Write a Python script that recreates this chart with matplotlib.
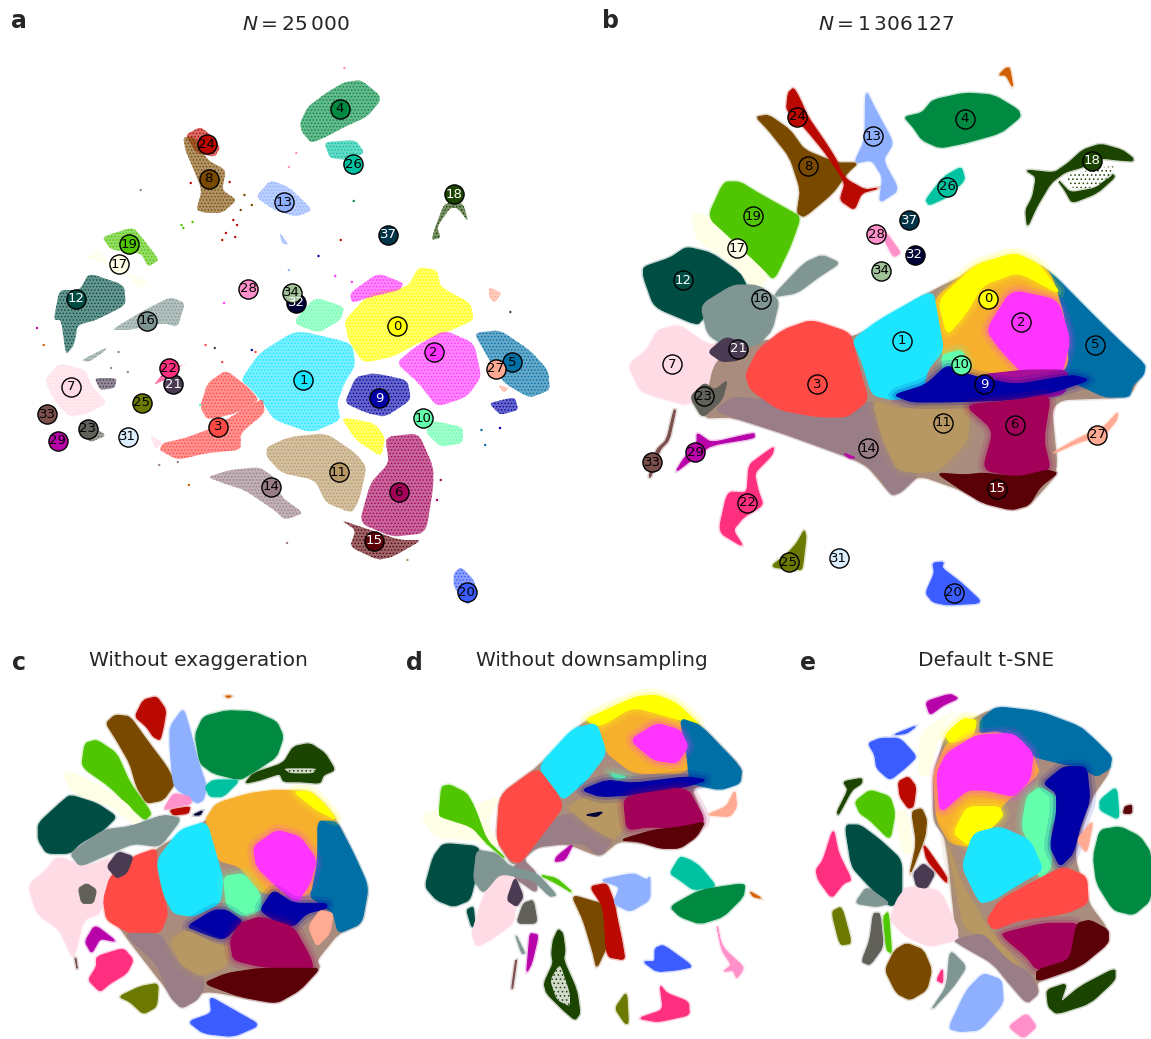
import matplotlib
matplotlib.use("Agg")
import matplotlib.pyplot as plt
from matplotlib.path import Path
from matplotlib.patches import PathPatch
from matplotlib.colors import to_rgba

W, H = 1151, 1039
C = {0:'#FFFF00',1:'#1CE6FF',2:'#FF34FF',3:'#FF4A46',4:'#008941',5:'#006FA6',6:'#A30059',7:'#FFDBE5',
     8:'#7A4900',9:'#0000A6',10:'#63FFAC',11:'#B79762',12:'#004D43',13:'#8FB0FF',14:'#997D87',15:'#5A0007',
     16:'#809693',17:'#FEFFE6',18:'#1B4400',19:'#4FC601',20:'#3B5DFF',21:'#4A3B53',22:'#FF2F80',23:'#61615A',
     24:'#BA0900',25:'#6B7900',26:'#00C2A0',27:'#FFAA92',28:'#FF90C9',29:'#B903AA',30:'#D16100',31:'#DDEFFF',
     32:'#000035',33:'#7B4F4B',34:'#A1C299',37:'#013349',
     'orange':'#F7B02E','purple':'#A8109A','base':'#A98C7E'}
WHITE_TEXT = [9, 12, 15, 18, 21, 32, 37]

cluster_ids = [0,1,2,3,4,5,6,7,8,9,10,11,12,13,14,15,16,17,18,19,20,21,22,23,24,25,26,27,28,29,31,32,33,34,37]
a_label_x = [1073,819,1171,589,917,1382,1076,192,563,1024,1143,914,205,768,731,1010,397,321,1227,348,1260,468,455,237,558,383,954,1338,670,156,345,800,127,788,1048]
a_label_y = [326,380,352,427,109,362,492,387,179,398,418,472,299,202,487,541,321,264,194,244,592,384,368,429,144,403,164,369,289,441,437,303,414,293,235]
b_label_x = [1115,873,1208,637,1050,1415,1189,229,611,1104,1038,989,260,792,779,1140,479,412,1406,456,1018,415,440,318,580,557,1001,1421,801,294,697,909,175,816,894]
b_label_y = [299,341,322,384,119,345,425,364,166,384,365,423,280,136,448,489,299,248,161,216,593,349,503,396,117,562,187,435,234,452,558,255,462,271,220]

A_POLYS = [
 (4,[(810,123),(830,107),(880,93),(930,82),(975,80),(1025,95),(1025,102),(990,117),(930,127),(880,137),(840,143),(815,132)]),
 (26,[(875,142),(960,140),(985,153),(940,160),(890,158)]),
 (24,[(500,135),(540,127),(560,132),(595,147),(580,157),(530,153)]),
 (8,[(495,137),(525,137),(560,160),(610,170),(600,190),(640,200),(600,213),(555,213),(530,210),(545,190),(520,167),(500,150)]),
 (13,[(690,197),(730,180),(780,187),(845,210),(800,217),(740,210)]),
 (13,[(755,232),(780,245),(760,243)]),
 (18,[(1200,203),(1250,203),(1265,222),(1235,208),(1215,208),(1180,227),(1190,238),(1165,240),(1175,227)]),
 (19,[(275,237),(360,227),(395,243),(430,260),(400,267),(380,253),(300,250)]),
 (17,[(230,257),(270,250),(300,267),(400,280),(380,290),(340,273),(260,260)]),
 (12,[(145,320),(160,290),(215,290),(240,273),(335,285),(340,305),(260,320),(210,325),(200,345),(178,355),(165,320)]),
 (16,[(300,330),(390,310),(460,297),(500,303),(480,327),(440,323),(350,330)]),
 (16,[(220,360),(290,347),(280,352),(240,362)]),
 (7,[(120,380),(160,363),(230,370),(250,387),(290,403),(240,413),(190,417),(150,403)]),
 (21,[(255,378),(315,378),(310,388),(270,390)]),
 (22,[(415,385),(440,373),(520,360),(490,365),(445,380)]),
 (10,[(790,323),(850,297),(930,307),(920,320),(860,333)]),
 (1,[(650,380),(700,353),(800,330),(950,343),(960,365),(930,383),(910,403),(920,420),(840,433),(740,420),(710,403),(680,390)]),
 (3,[(560,383),(610,370),(670,387),(700,400),(640,413),(560,420),(540,407)]),
 (3,[(440,443),(500,438),(580,427),(640,413),(710,398),(715,413),(650,433),(650,450),(560,453),(480,460),(430,450)]),
 (0,[(930,320),(1000,293),(1100,287),(1130,267),(1180,270),(1190,287),(1270,303),(1280,320),(1220,330),(1130,343),(1060,357),(980,363),(940,340)]),
 (0,[(920,417),(1010,423),(1040,437),(1030,457),(960,440)]),
 (2,[(945,293),(1020,273),(1090,283),(1080,290),(1000,297),(950,303)]),
 (2,[(1120,347),(1200,330),(1280,343),(1300,377),(1260,397),(1180,407),(1130,383),(1070,363)]),
 (5,[(1280,333),(1350,330),(1430,350),(1480,370),(1485,390),(1430,398),(1360,383),(1310,353)]),
 (9,[(1320,403),(1390,397),(1400,410),(1350,415)]),
 (9,[(930,403),(960,377),(1010,373),(1100,380),(1110,400),(1040,417),(990,413)]),
 (10,[(1160,420),(1250,427),(1250,443),(1190,447),(1150,433)]),
 (11,[(720,447),(780,437),(880,433),(960,453),(990,467),(970,500),(950,513),(880,503),(850,480),(760,473),(720,457)]),
 (14,[(560,477),(620,470),(700,467),(740,477),(760,497),(820,513),(770,520),(740,510),(660,490),(600,483)]),
 (6,[(1040,437),(1130,433),(1170,467),(1170,487),(1150,533),(1060,537),(970,523),(1000,483),(1050,463)]),
 (15,[(920,520),(1000,530),(1080,540),(1140,540),(1060,557),(1020,560),(945,547),(960,530)]),
 (20,[(1225,573),(1245,567),(1280,580),(1290,597),(1260,605),(1225,587)]),
 (23,[(210,420),(290,435),(240,443)]),
 (27,[(1345,385),(1375,388),(1360,393)]),
 (27,[(1320,287),(1355,293),(1335,303),(1320,297)]),
 (7,[(405,435),(440,442),(420,450)]),
]
# scattered single cells in panel a
a_stray_c = [24,24,24,24,24,24,9,2,16,4,19,29,14,30,30,21,9,3,28,13,24,24,8,8,8,19,19,2,2,21,9,16,16,16,3,3,14,14,5,5,6,6,11,10,28,28]
a_stray_x = [920,600,635,630,620,515,860,605,380,955,490,100,775,118,510,1378,1350,555,800,780,640,610,660,680,650,520,495,905,950,580,680,320,300,345,600,690,430,480,1300,1310,1190,1180,1100,540,780,930]
a_stray_y = [240,240,237,220,182,183,256,303,190,201,225,328,543,345,485,312,428,345,153,270,225,233,195,205,210,222,228,276,282,348,350,352,368,372,362,352,465,462,430,445,480,500,560,405,167,68]

B_POLYS = [
 (30,[(1165,68),(1175,68),(1185,88),(1165,75),(1145,75)]),
 (17,[(285,212),(360,220),(440,240),(500,277),(470,293),(400,263),(300,240)]),
 (19,[(375,182),(420,182),(470,193),(540,207),(590,217),(560,247),(515,280),(480,267),(400,240),(330,217)]),
 (7,[(107,365),(160,350),(190,330),(250,325),(330,345),(430,345),(450,365),(420,385),(380,395),(320,395),(270,405),(220,400),(170,395),(140,390)]),
 ('base',[(350,360),(470,340),(735,340),(960,290),(1190,253),(1320,295),(1555,365),(1510,397),(1290,400),(1310,473),(1230,505),(1180,510),(1040,490),(920,475),(870,492),(845,495),(770,463),(540,433),(400,417),(315,418)]),
 (12,[(150,267),(225,258),(270,247),(340,253),(420,273),(440,287),(350,300),(320,317),(300,325),(180,307),(150,277)]),
 (16,[(510,297),(600,263),(650,255),(700,263),(640,277),(580,293)]),
 (16,[(310,305),(400,285),(470,285),(530,300),(510,330),(470,345),(400,350),(330,335)]),
 (14,[(350,410),(400,397),(500,400),(640,415),(790,400),(850,420),(900,445),(920,475),(870,492),(845,495),(810,477),(770,463),(650,447),(540,433),(470,425),(400,417)]),
 (11,[(790,400),(880,410),(1000,400),(1060,400),(1060,440),(980,470),(920,473),(860,470),(820,440)]),
 (3,[(435,375),(450,390),(530,410),(640,417),(720,417),(780,400),(750,363),(730,333),(620,320),(540,330),(470,350)]),
 (21,[(330,352),(380,337),(430,343),(420,360),(370,362)]),
 (23,[(280,397),(320,383),(350,390),(385,380),(370,400),(315,418)]),
 (33,[(235,410),(215,440),(185,450),(165,477),(170,477),(195,450),(222,440),(240,410)]),
 (29,[(460,433),(460,438),(340,445),(295,457),(240,472),(260,460),(300,443),(300,433),(340,443)]),
 (29,[(710,453),(745,458),(725,458)]),
 (22,[(515,447),(510,455),(460,473),(470,490),(485,505),(430,517),(400,530),(430,547),(360,532),(385,492),(440,493),(445,465),(490,453)]),
 (25,[(600,530),(605,537),(595,567),(590,570),(505,567),(555,553),(580,543)]),
 (20,[(960,563),(990,562),(985,568),(1040,583),(1100,603),(1000,605),(960,602),(940,593),(965,573)]),
 (27,[(1295,453),(1370,438),(1440,427),(1478,412),(1475,420),(1440,435),(1370,442),(1300,453)]),
 (28,[(830,233),(870,253),(850,257),(825,240)]),
 (26,[(1040,167),(1050,180),(1000,197),(950,205),(940,200),(990,177)]),
 (4,[(880,117),(930,113),(960,100),(1050,93),(1130,95),(1200,110),(1205,117),(1150,133),(1050,143),(980,148),(930,140),(905,127)]),
 (13,[(772,90),(800,110),(850,143),(820,160),(865,190),(810,203),(820,177),(790,160),(740,163),(770,140)]),
 (8,[(465,117),(500,115),(560,130),(600,150),(690,163),(750,163),(720,173),(680,193),(600,217),(580,213),(590,190),(560,157),(500,130)]),
 (24,[(570,88),(585,97),(610,117),(660,143),(690,160),(700,170),(720,180),(770,190),(810,188),(760,193),(740,210),(700,200),(715,183),(660,153),(600,127),(550,110),(555,93)]),
 (18,[(1520,158),(1490,150),(1430,144),(1380,150),(1340,163),(1300,173),(1220,170),(1250,177),(1240,197),(1220,210),(1225,227),(1250,207),(1290,183),(1330,172),(1380,167),(1430,158),(1480,160),(1520,161)]),
 (18,[(1470,177),(1420,193),(1350,203),(1330,190),(1310,180),(1345,193),(1420,188),(1460,173)]),
 (5,[(1190,255),(1290,272),(1400,312),(1480,340),(1555,365),(1550,375),(1520,385),(1510,397),(1440,397),(1370,385),(1290,375),(1330,350),(1310,310)]),
 ('orange',[(960,300),(1080,265),(1200,255),(1290,272),(1330,320),(1340,370),(1200,385),(1000,375),(980,340)]),
 (0,[(975,300),(1080,265),(1190,253),(1260,265),(1320,295),(1200,272),(1100,285),(1050,315),(1000,335)]),
 (2,[(1110,330),(1180,290),(1310,300),(1345,340),(1320,375),(1230,380),(1150,350)]),
 ('purple',[(1090,375),(1220,370),(1340,370),(1330,395),(1200,400)]),
 (1,[(735,340),(810,320),(960,290),(975,320),(990,350),(945,370),(930,395),(850,400),(790,395),(760,360)]),
 (10,[(985,355),(1040,350),(1060,365),(1030,375),(990,375)]),
 (9,[(850,395),(940,385),(1000,365),(1060,375),(1190,385),(1350,375),(1400,380),(1300,392),(1180,400),(1000,402),(900,402)]),
 (6,[(1050,405),(1200,400),(1290,395),(1270,440),(1290,470),(1200,477),(1100,470),(1130,430)]),
 (15,[(970,473),(1050,475),(1100,473),(1200,477),(1280,470),(1310,473),(1260,487),(1230,505),(1180,510),(1100,503),(1040,490)]),
]
B_SPECKLE = [[(1330,175),(1470,165),(1465,175),(1410,188),(1345,188)]]

C_POLYS = [
 (24,[(405,230),(430,180),(470,170),(498,210),(490,260),(480,300),(460,290),(440,260)]),
 (8,[(318,250),(345,225),(390,230),(440,300),(500,380),(525,430),(490,480),(440,490),(410,440),(390,370),(350,300)]),
 (13,[(550,205),(570,270),(590,350),(620,440),(610,480),(590,490),(520,440),(510,320),(510,260)]),
 (4,[(585,285),(610,230),(680,212),(760,215),(830,245),(850,290),(830,350),(770,390),(720,420),(640,400),(600,370)]),
 (26,[(615,440),(640,420),(720,420),(670,470),(630,470)]),
 (18,[(735,430),(760,400),(850,370),(880,320),(930,310),(975,340),(1005,390),(970,405),(960,430),(900,425),(850,425),(840,400),(780,420)]),
 (19,[(245,380),(255,310),(290,300),(350,340),(390,430),(455,520),(435,540),(400,510),(330,440)]),
 (17,[(190,400),(210,395),(300,440),(380,490),(420,540),(440,580),(420,570),(340,500),(220,460)]),
 (7,[(85,735),(140,690),(170,650),(260,680),(340,650),(330,720),(300,820),(250,840),(220,960),(180,870),(110,820)]),
 ('base',[(310,780),(470,625),(620,545),(650,490),(930,455),(1010,540),(1105,740),(1085,850),(1015,880),(950,960),(960,985),(830,1090),(610,1050),(545,1105),(370,880)]),
 (12,[(115,550),(180,490),(210,465),(290,490),(350,530),(310,570),(240,610),(210,640),(140,640),(115,600)]),
 (16,[(210,640),(310,570),(390,560),(490,525),(545,535),(480,620),(400,610),(330,640),(240,680)]),
 (23,[(235,745),(260,730),(290,750),(280,790),(245,790)]),
 (3,[(310,780),(330,710),(400,650),(470,625),(470,700),(505,820),(480,880),(390,880),(320,840)]),
 (21,[(320,680),(355,635),(400,650),(380,700),(350,715)]),
 (5,[(950,540),(1010,545),(1060,640),(1105,740),(1085,850),(1015,880),(1000,820),(960,790),(930,770),(950,660)]),
 ('orange',[(615,540),(650,490),(750,460),(830,450),(930,455),(970,490),(1010,540),(950,540),(950,660),(930,770),(780,760),(720,680),(650,660)]),
 (0,[(880,455),(930,455),(970,490),(1010,540),(950,510)]),
 (2,[(760,620),(830,570),(900,590),(950,660),(930,730),(890,790),(820,730),(770,680)]),
 (1,[(470,660),(540,570),(620,545),(650,650),(670,720),(660,790),(580,830),(520,820),(490,760)]),
 (10,[(670,710),(730,700),(780,760),(785,810),(730,830),(680,800)]),
 (9,[(560,860),(640,810),(680,810),(730,845),(670,900),(610,880)]),
 (9,[(780,810),(820,750),(880,790),(980,790),(980,805),(920,820),(880,860),(820,840)]),
 (14,[(370,880),(480,880),(520,950),(610,1010),(610,1050),(590,1080),(545,1105),(510,1070),(470,970)]),
 (11,[(510,900),(560,870),(640,910),(690,920),(680,980),(600,1010),(540,970)]),
 (6,[(720,850),(780,830),(880,860),(930,950),(940,985),(880,985),(780,980),(700,960),(690,900)]),
 (15,[(610,1030),(680,1000),(780,985),(900,985),(960,985),(900,1050),(830,1090),(720,1070)]),
 (27,[(925,860),(960,810),(1000,820),(990,880),(950,920)]),
 (22,[(265,1020),(290,980),(290,950),(370,925),(400,960),(380,1000),(330,1030),(300,1055)]),
 (25,[(357,1070),(420,1040),(475,1030),(470,1100),(430,1122),(390,1085)]),
 (20,[(565,1145),(635,1120),(630,1070),(700,1110),(780,1155),(700,1190),(610,1180)]),
 (29,[(255,905),(285,855),(350,905),(300,895),(275,940)]),
 (33,[(225,955),(232,990),(228,955)]),
 (28,[(490,510),(520,460),(570,470),(575,490),(530,500)]),
 (24,[(510,510),(570,500),(565,520),(520,525)]),
 (30,[(676,168),(695,168),(685,173)]),
 (32,[(580,525),(608,512),(600,525)]),
]
C_SPECKLE = [[(850,385),(950,385),(940,400),(870,400)]]

D_POLYS = [
 (17,[(65,525),(120,510),(220,500),(300,470),(260,550),(300,620),(230,600),(100,590)]),
 (19,[(118,515),(125,440),(150,435),(200,460),(225,505),(260,600),(320,660),(260,610),(215,560),(120,530)]),
 (19,[(420,705),(470,715),(520,760),(470,730)]),
 ('base',[(300,465),(415,380),(555,240),(770,165),(900,255),(1025,385),(1020,430),(870,440),(915,545),(840,625),(660,600),(600,650),(500,610),(410,620),(340,680),(290,600)]),
 (14,[(340,680),(410,620),(500,610),(550,610),(600,650),(640,600),(600,530),(500,520),(400,570),(370,660),(410,700),(410,760),(340,710)]),
 (12,[(75,740),(100,650),(130,610),(240,620),(230,700),(210,780),(160,800),(110,780)]),
 (12,[(200,810),(220,800),(225,860),(215,860)]),
 (7,[(240,800),(270,720),(340,690),(350,780),(340,850),(270,900),(230,920),(215,880)]),
 (16,[(230,630),(290,640),(330,680),(410,700),(470,765),(450,770),(400,720),(300,700),(250,760),(220,720)]),
 (21,[(320,780),(345,710),(370,770),(350,800)]),
 (23,[(350,850),(370,790),(400,780),(412,850)]),
 (3,[(300,465),(410,385),(460,440),(490,500),(430,580),(360,670),(330,660),(290,600)]),
 ('orange',[(590,250),(700,190),(830,230),(870,320),(860,400),(700,400),(620,340)]),
 (0,[(555,240),(640,200),(710,170),(770,165),(830,190),(900,255),(840,240),(700,200),(600,260)]),
 (5,[(840,235),(900,255),(1025,385),(1020,430),(960,450),(870,430),(860,340)]),
 (2,[(690,300),(770,250),(840,270),(865,320),(830,370),(760,360)]),
 (1,[(415,380),(520,265),(590,250),(620,340),(560,420),(490,480),(460,440)]),
 (10,[(630,400),(680,410),(650,420)]),
 (11,[(500,500),(560,470),(680,480),(670,570),(640,600),(570,560)]),
 (9,[(545,450),(620,420),(700,430),(860,410),(920,420),(860,440),(700,465),(600,470)]),
 (6,[(670,470),(860,440),(915,540),(880,570),(750,560),(680,570)]),
 (15,[(660,600),(760,570),(850,560),(915,545),(890,590),(840,625),(780,625),(720,605)]),
 (27,[(920,525),(980,500),(1005,450),(1010,500),(990,530)]),
 (8,[(515,765),(600,790),(650,800),(620,920),(590,985),(580,940),(550,840)]),
 (24,[(570,740),(620,730),(640,780),(650,830),(665,900),(675,960),(620,950),(610,800)]),
 (13,[(600,720),(700,700),(740,720),(750,710),(750,780),(690,815),(640,790),(660,740)]),
 (26,[(810,700),(840,650),(870,660),(900,680),(950,740),(880,750),(840,720)]),
 (4,[(810,800),(900,750),(1035,730),(1030,770),(970,830),(900,852),(840,830)]),
 (30,[(1050,755),(1085,775),(1060,770)]),
 (18,[(460,900),(475,868),(488,880),(495,930),(490,960),(530,1050),(540,1120),(525,1140),(490,1110),(440,1060),(432,1030),(460,970),(455,940)]),
 (29,[(390,880),(415,885),(395,970),(380,998),(385,940)]),
 (29,[(470,650),(520,610),(495,660),(465,665)]),
 (33,[(347,960),(350,960),(338,1045),(335,1045)]),
 (16,[(345,880),(375,940),(365,940)]),
 (20,[(730,965),(765,965),(765,925),(790,915),(880,980),(830,990),(770,995)]),
 (25,[(645,1105),(680,1055),(685,1150),(675,1150)]),
 (22,[(715,1135),(790,1110),(780,1035),(800,1060),(865,1085),(868,1125),(800,1140),(770,1145)]),
 (28,[(950,850),(960,900),(975,930),(1030,980),(1025,995),(1010,1015),(1000,990),(970,995),(995,975),(965,930)]),
 (32,[(555,525),(610,515),(590,530)]),
]
D_SPECKLE = [[(450,1020),(480,970),(510,1060),(510,1100),(470,1080)]]

E_POLYS = [
 (29,[(437,185),(510,162),(535,175),(490,195),(450,225)]),
 (20,[(265,310),(300,295),(360,295),(410,350),(380,380),(330,420),(290,385),(285,345)]),
 (20,[(340,285),(410,257),(380,280)]),
 (17,[(420,280),(530,210),(490,250),(460,340),(450,410),(415,400)]),
 ('base',[(460,400),(500,280),(650,200),(945,300),(995,385),(930,480),(880,640),(925,790),(985,870),(900,980),(770,1025),(775,1060),(740,1090),(640,970),(530,900),(500,600),(460,540)]),
 (5,[(600,240),(650,200),(780,215),(900,260),(945,300),(995,350),(990,385),(950,410),(900,380),(840,370),(760,350),(730,300),(650,270),(600,280)]),
 ('orange',[(460,400),(500,310),(580,280),(680,280),(760,350),(780,400),(660,500),(660,540),(570,620),(510,610),(470,540)]),
 (0,[(495,285),(550,235),(590,240),(580,290),(510,310)]),
 (2,[(470,400),(500,340),(590,285),(700,280),(760,340),(750,420),(700,470),(620,450),(560,450),(480,520)]),
 (0,[(520,580),(560,500),(660,500),(670,530),(570,620)]),
 (10,[(740,470),(780,440),(830,470),(830,520),(810,570),(815,680),(780,720),(750,620),(725,560)]),
 (9,[(790,430),(850,380),(920,380),(930,480),(900,560),(880,640),(840,680),(810,620),(830,520),(830,460)]),
 (11,[(500,600),(540,720),(620,860),(730,990),(680,980),(600,890),(550,860)]),
 (1,[(545,680),(580,580),(660,560),(750,600),(790,690),(720,730),(640,780),(600,790)]),
 (3,[(620,840),(660,780),(770,720),(850,680),(920,710),(925,790),(860,820),(720,840),(640,870)]),
 (6,[(665,880),(790,850),(900,850),(890,960),(770,990),(740,950),(680,900)]),
 (15,[(890,850),(930,840),(985,870),(985,910),(900,980),(770,1025),(770,990),(870,960)]),
 (14,[(520,900),(610,880),(680,960),(750,1000),(775,1060),(740,1090),(680,1020),(640,970),(550,920)]),
 (4,[(960,570),(1020,560),(1080,590),(1113,640),(1113,780),(1060,825),(1000,810),(950,730),(940,650)]),
 (26,[(960,480),(1010,440),(1018,540),(960,510)]),
 (27,[(890,600),(940,540),(920,640)]),
 (18,[(800,1050),(860,1030),(840,1090),(900,1040),(1005,985),(1005,1020),(930,1090),(830,1122),(805,1100)]),
 (18,[(190,425),(245,415),(245,430),(215,450),(175,525),(172,515),(205,450)]),
 (19,[(225,485),(270,450),(330,470),(345,520),(330,600),(270,540),(240,520)]),
 (19,[(310,830),(325,815),(335,940),(320,930)]),
 (17,[(345,520),(380,510),(400,640),(370,640)]),
 (24,[(355,425),(385,410),(408,440),(400,500),(385,505),(360,470)]),
 (24,[(430,610),(500,710),(500,730),(440,660)]),
 (8,[(395,515),(425,505),(440,540),(435,590),(400,680),(390,700),(410,610)]),
 (8,[(315,990),(345,930),(380,910),(430,930),(455,990),(440,1050),(390,1080),(350,1060)]),
 (12,[(195,555),(240,555),(300,600),(365,660),(365,780),(330,800),(260,730),(215,680)]),
 (16,[(225,790),(260,740),(330,790),(290,800)]),
 (16,[(450,1115),(500,1040),(510,930),(560,980),(520,1040)]),
 (7,[(330,840),(350,780),(380,740),(480,750),(535,870),(530,900),(450,920),(380,890)]),
 (21,[(400,700),(430,670),(465,700),(440,745),(410,740)]),
 (23,[(245,965),(270,900),(280,820),(300,820),(310,920),(270,975)]),
 (22,[(108,690),(130,660),(160,565),(175,640),(215,720),(190,730),(155,775),(115,720)]),
 (22,[(470,1020),(488,985),(488,1030)]),
 (25,[(155,815),(185,800),(215,910),(180,915)]),
 (13,[(505,1165),(560,1050),(610,1000),(665,1020),(670,1090),(600,1170),(540,1175)]),
 (28,[(685,1160),(740,1120),(770,1160),(730,1195)]),
 (15,[(1035,500),(1055,495),(1055,520),(1030,520)]),
]

SOFT = [0, 2, 9, 10, 11, 6]

def rounded(pts, f=0.25):
    n = len(pts)
    lerp = lambda p, q, t: (p[0]+(q[0]-p[0])*t, p[1]+(q[1]-p[1])*t)
    verts, codes = [lerp(pts[0], pts[1], f)], [Path.MOVETO]
    for i in range(1, n+1):
        v, nx = pts[i % n], pts[(i+1) % n]
        prev = pts[i-1]
        verts += [lerp(prev, v, 1-f), v, lerp(v, nx, f)]
        codes += [Path.LINETO, Path.CURVE3, Path.CURVE3]
    return Path(verts, codes)

def draw_solid(ax, polys):
    for key, pts in polys:
        if key not in SOFT:
            ax.add_patch(PathPatch(rounded(pts), fc='none', ec=to_rgba(C[key], .22), lw=3))
    for key, pts in polys:
        col, p = C[key], rounded(pts)
        if key in SOFT:
            ax.add_patch(PathPatch(p, fc='none', ec=to_rgba(col, .12), lw=10))
            ax.add_patch(PathPatch(p, fc='none', ec=to_rgba(col, .2), lw=5))
        ax.add_patch(PathPatch(p, fc=col, ec=col, lw=.8))

def draw_sparse(ax, key, pts):
    col = C[key]
    ax.add_patch(PathPatch(rounded(pts), fc=to_rgba(col, .6), ec=col, lw=0, hatch='.....'))

def new_axes(x0, y0, x1, y1, xlim, ylim):
    ax = fig.add_axes([x0/W, 1-y1/H, (x1-x0)/W, (y1-y0)/H])
    ax.set_xlim(*xlim); ax.set_ylim(*ylim); ax.axis('off')
    return ax

def labels(ax, xs, ys):
    for c, x, y in zip(cluster_ids, xs, ys):
        ax.scatter([x], [y], s=190, c=C[c], edgecolors='k', linewidths=1, zorder=5)
        ax.text(x, y, str(c), ha='center', va='center', fontsize=9.5, zorder=6,
                color='white' if c in WHITE_TEXT else 'black')

def speckle(ax, polys):
    for pts in polys:
        ax.add_patch(PathPatch(rounded(pts), fc=to_rgba('white', .8), ec='#1B4400', lw=0, hatch='....'))

plt.rcParams['hatch.linewidth'] = 0.6
fig = plt.figure(figsize=(W/100, H/100), dpi=100)
INK = '#262626'

axa = new_axes(0, 0, 580, 620, (0, 1566), (620, 0))
for k, pts in A_POLYS:
    draw_sparse(axa, k, pts)
axa.scatter(a_stray_x, a_stray_y, s=3, c=[C[k] for k in a_stray_c], linewidths=0)
labels(axa, a_label_x, a_label_y)

axb = new_axes(590, 0, 1151, 620, (0, 1571), (620, 0))
draw_solid(axb, B_POLYS)
speckle(axb, B_SPECKLE)
labels(axb, b_label_x, b_label_y)

for (x0, x1, polys, speck) in [(0, 400, C_POLYS, C_SPECKLE), (400, 780, D_POLYS, D_SPECKLE), (780, 1151, E_POLYS, [])]:
    ax = new_axes(x0, 640, x1, 1039, (0, (x1-x0)*3), (1197, 0))
    draw_solid(ax, polys)
    speckle(ax, speck)

def ftext(x, y, s, **kw):
    fig.text(x/W, 1-y/H, s, ha='center', va='center', color=INK, **kw)

ftext(296, 24, r'$N = 25\,000$', fontsize=14.5)
ftext(886, 24, r'$N = 1\,306\,127$', fontsize=14.5)
ftext(198, 661, 'Without exaggeration', fontsize=14.5)
ftext(592, 661, 'Without downsampling', fontsize=14.5)
ftext(986, 661, 'Default t-SNE', fontsize=14.5)
for s, x, y in [('a', 19, 21), ('b', 611, 21), ('c', 19, 663), ('d', 414, 663), ('e', 808, 663)]:
    ftext(x, y, s, fontsize=17, fontweight='bold')

fig.savefig('out.png', dpi=100)
